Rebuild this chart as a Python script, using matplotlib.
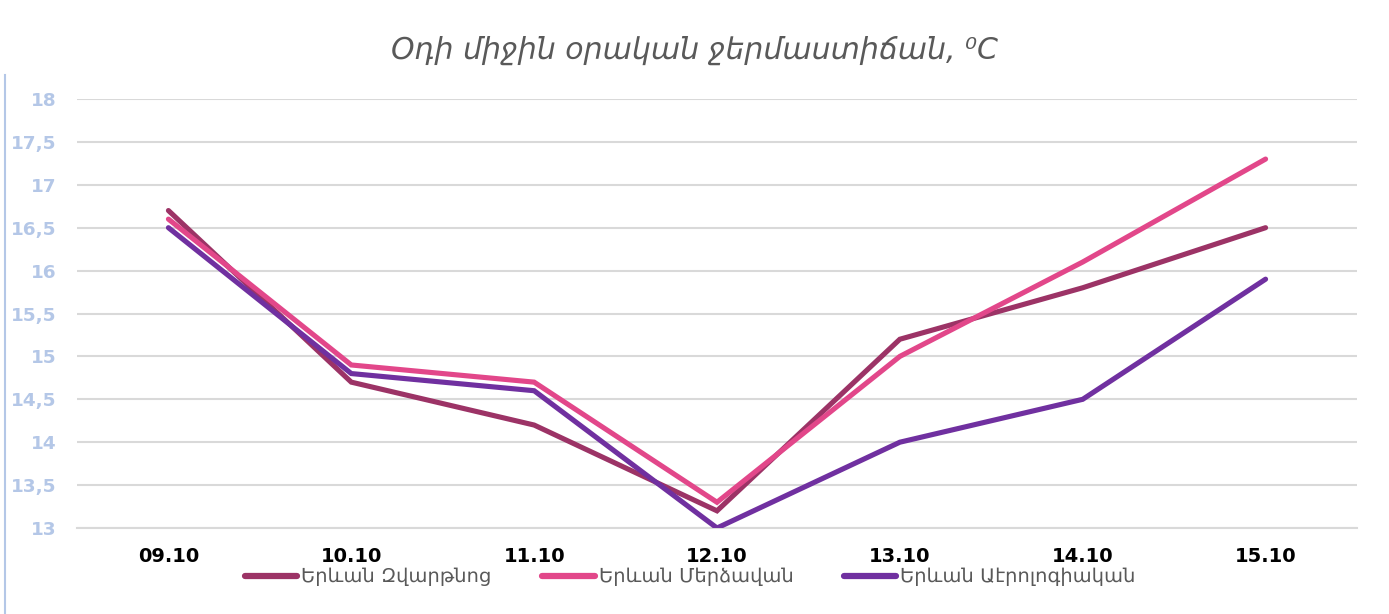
import matplotlib
matplotlib.use("Agg")
import matplotlib.pyplot as plt
from matplotlib.lines import Line2D

dates = ["09.10", "10.10", "11.10", "12.10", "13.10", "14.10", "15.10"]
zvartnots = [16.7, 14.7, 14.2, 13.2, 15.2, 15.8, 16.5]
merdzavan = [16.6, 14.9, 14.7, 13.3, 15.0, 16.1, 17.3]
aerolog = [16.5, 14.8, 14.6, 13.0, 14.0, 14.5, 15.9]
series_names = ["Երևան Զվարթնոց", "Երևան Մերձավան", "Երևան Աէրոլոգիական"]
colors = ["#9C3366", "#E2478A", "#7030A0"]
yticks = [13, 13.5, 14, 14.5, 15, 15.5, 16, 16.5, 17, 17.5, 18]
title = "Օդի միջին օրական ջերմաստիճան, ⁰C"

plt.rcParams['font.family'] = ['DejaVu Sans']
fig = plt.figure(figsize=(13.89, 6.14), dpi=100)
ax = fig.add_axes([77/1389, 1-528/614, (1357-77)/1389, (528-99)/614])

x = list(range(len(dates)))
for vals, c, n in zip([zvartnots, merdzavan, aerolog], colors, series_names):
    ax.plot(x, vals, color=c, lw=3.7, solid_capstyle='round', solid_joinstyle='miter', label=n, zorder=3)

ax.set_xlim(-0.5, len(dates)-0.5)
ax.set_ylim(13, 18)
ax.set_yticks(yticks)
ax.set_yticklabels([str(int(v)) if v == int(v) else str(v).replace('.', ',') for v in yticks],
                   fontsize=13.3, fontweight='bold', color='#B4C7E7')
ax.set_xticks(x)
ax.set_xticklabels(dates, fontsize=14, fontweight='bold', color='black')
ax.tick_params(axis='both', length=0)
ax.tick_params(axis='y', pad=15)
ax.tick_params(axis='x', pad=14)
ax.grid(axis='y', color='#D9D9D9', lw=1.5, zorder=0)
ax.set_axisbelow(True)
for s in ax.spines.values():
    s.set_visible(False)
ax.spines['bottom'].set_visible(True)
ax.spines['bottom'].set_color('#D9D9D9')
ax.spines['bottom'].set_linewidth(1.5)

fig.text(0.5, 1-50/614, title, ha='center', va='center', fontsize=21.6, style='italic', color='#595959')

handles = [Line2D([0], [0], color=c, lw=4.5, solid_capstyle='round') for c in colors]
leg = fig.legend(handles, series_names, loc='center', bbox_to_anchor=(0.497, 1-577/614), ncol=3,
                 frameon=False, fontsize=14, handlelength=2.7, handletextpad=0.2, columnspacing=2.6)
for t in leg.get_texts():
    t.set_color('#595959')

fig.add_artist(Line2D([5/1389, 5/1389], [0, 1-75/614], transform=fig.transFigure, color='#B4C7E7', lw=1.5))

fig.savefig("out.png", dpi=100)
